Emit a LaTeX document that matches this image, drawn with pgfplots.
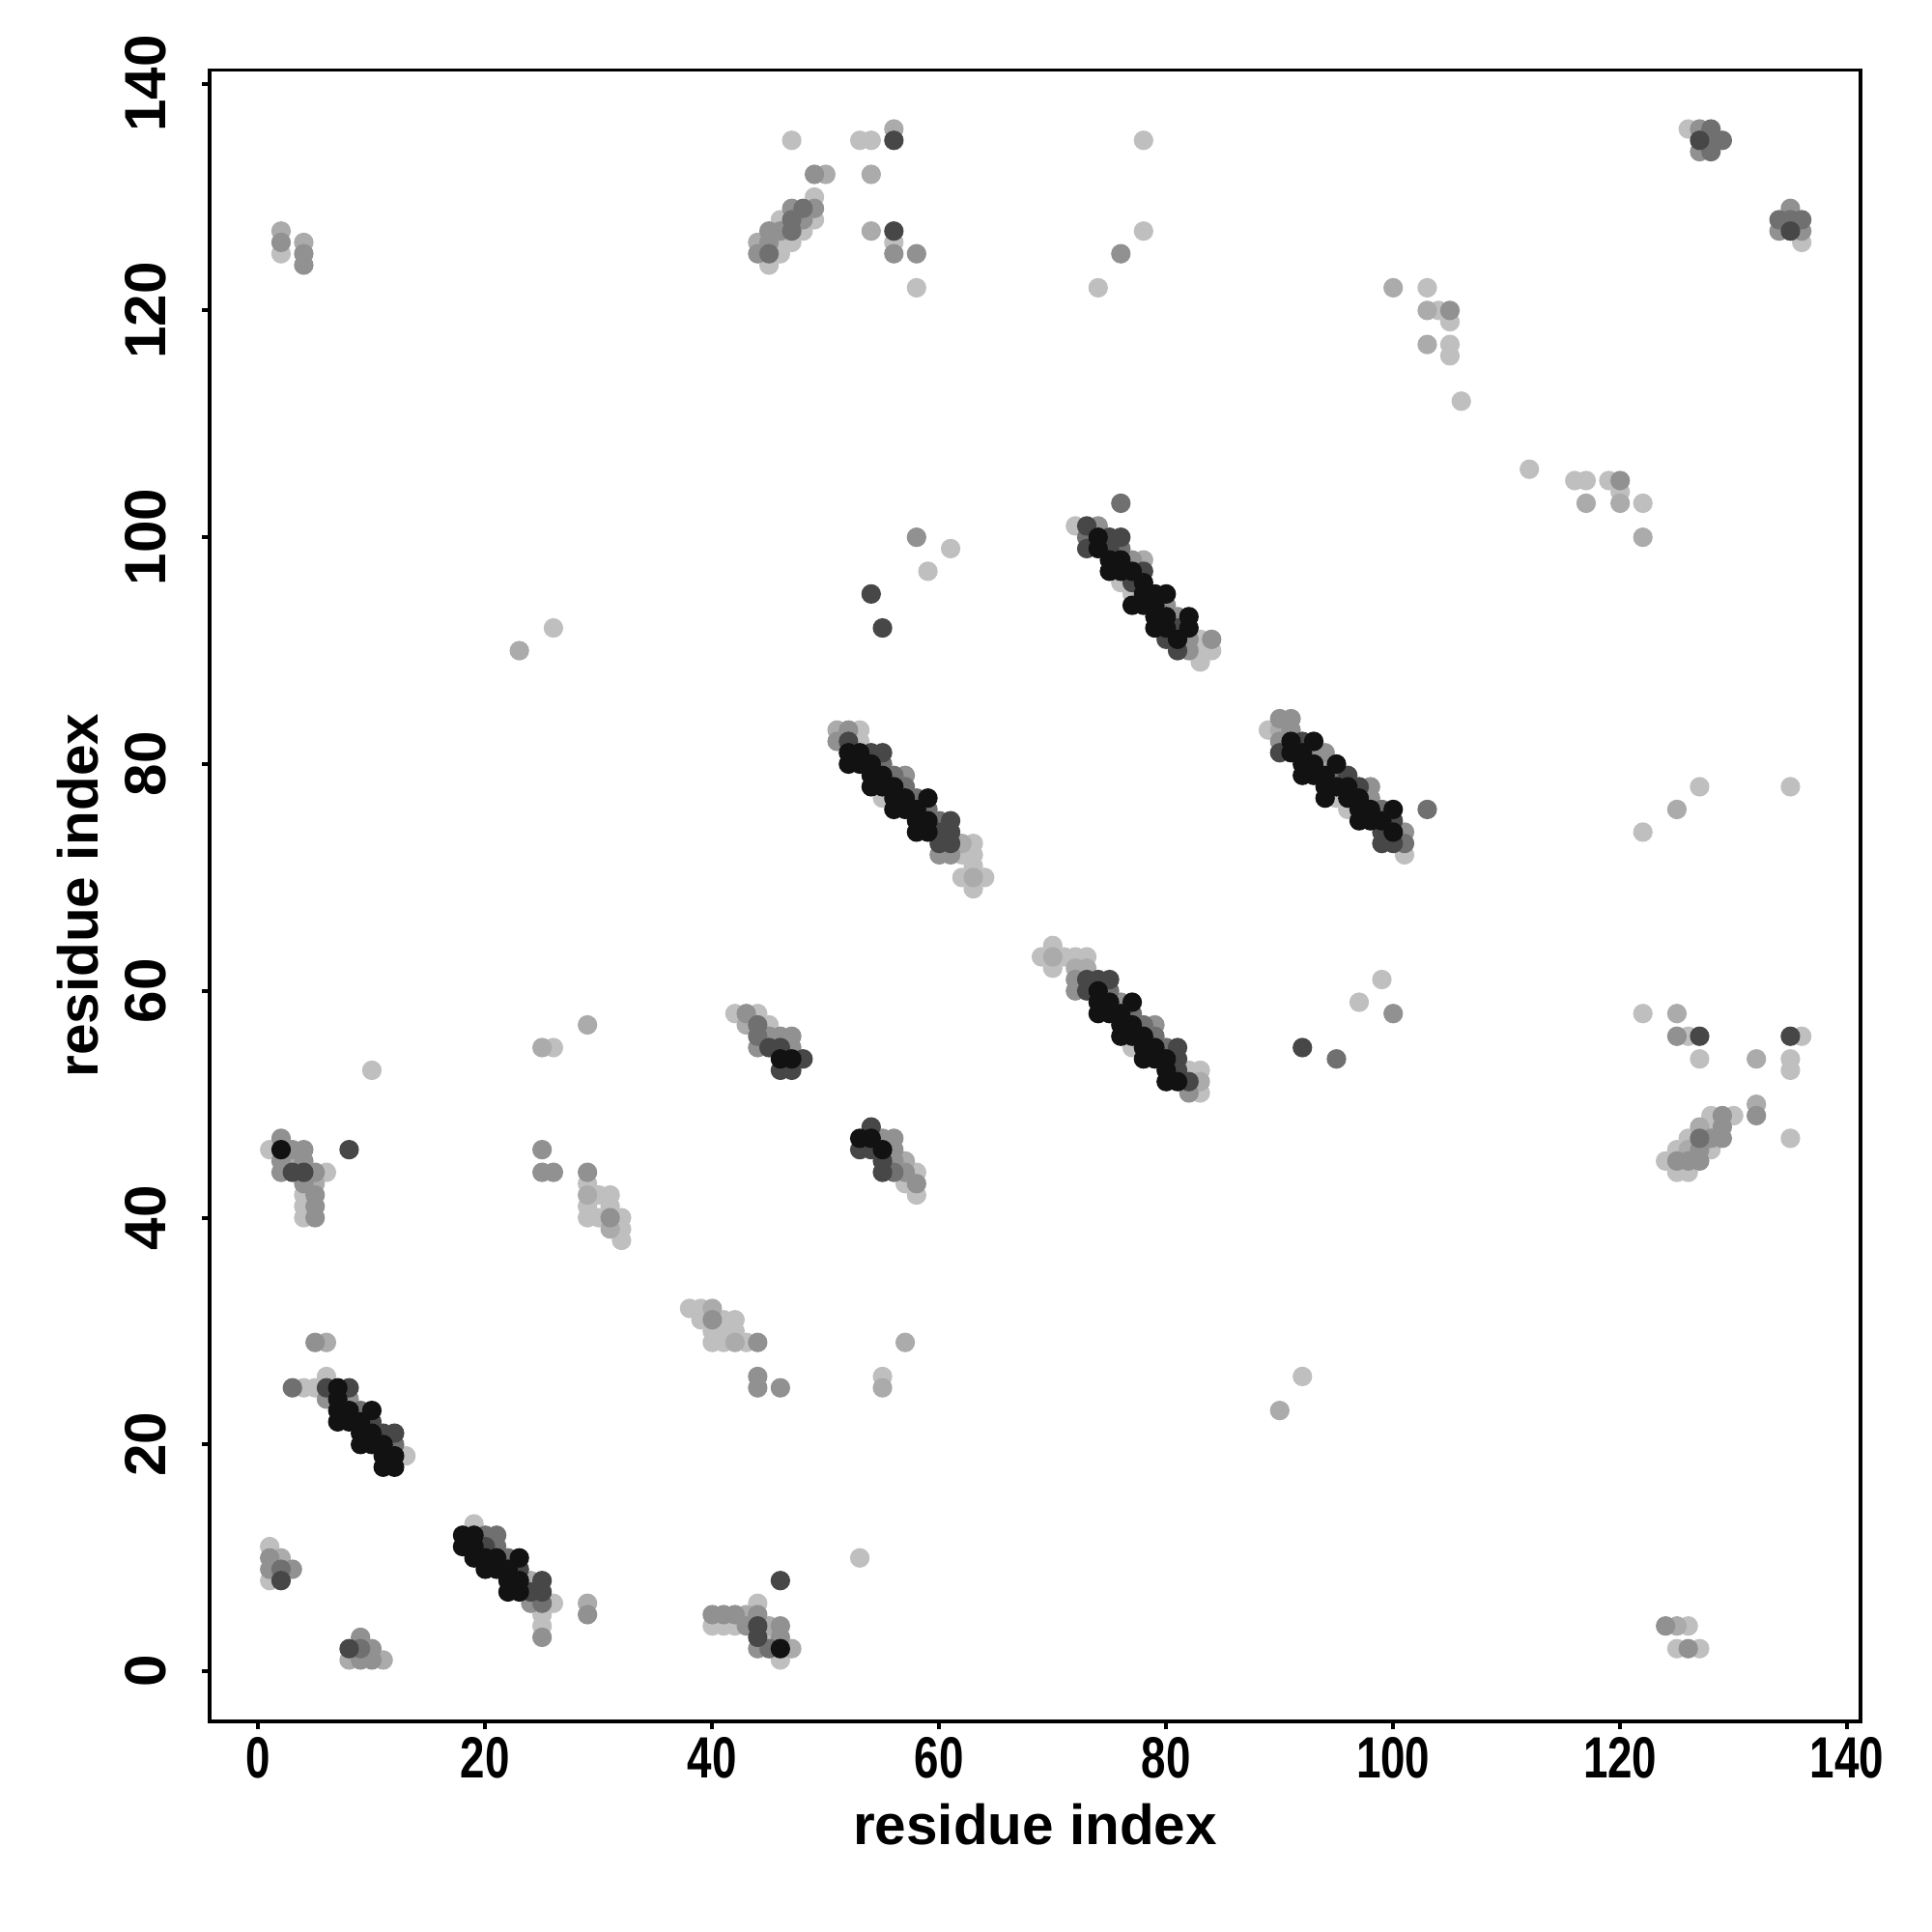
\documentclass[border=0pt]{standalone}
\usepackage{fontspec}
\setmainfont{Liberation Sans}
\newfontfamily\tickfont{Liberation Sans}[FakeStretch=0.76]
\usepackage{pgfplots}
\pgfplotsset{compat=1.18}
\usetikzlibrary{calc}
\definecolor{cL}{gray}{0.75}
\definecolor{cML}{gray}{0.67}
\definecolor{cM}{gray}{0.57}
\definecolor{cDM}{gray}{0.44}
\definecolor{cD}{gray}{0.28}
\definecolor{cK}{gray}{0.07}
\begin{document}
\begin{tikzpicture}
\begin{axis}[
  width=13.67cm, height=13.67cm, scale only axis,
  xmin=-4.3, xmax=141.2, ymin=-4.4, ymax=141.2,
  axis line style={line width=0.9pt},
  every tick/.style={black, line width=0.9pt},
  tick align=outside, major tick length=0.065cm,
  xtick pos=bottom, ytick pos=left,
  xtick={0,20,...,140}, ytick={0,20,...,140},
  /pgf/number format/assume math mode=true,
  xticklabel style={anchor=north, inner sep=0pt, font=\tickfont\bfseries\fontsize{13.7}{16}\selectfont},
  yticklabel style={rotate=90, anchor=south, inner sep=0pt, font=\bfseries\fontsize{13.7}{16}\selectfont},
  xticklabel shift=0.06cm,
  yticklabel shift=0.29cm,
  label style={font=\bfseries\fontsize{13.3}{16}\selectfont, inner sep=0pt},
  xlabel={residue index}, ylabel={residue index},
  xlabel style={at={(axis description cs:0.5,0)}, anchor=base, yshift=-1.02cm},
  ylabel style={at={($(axis description cs:0,0.5)+(-0.92cm,0)$)}, anchor=base},
  every axis plot/.append style={only marks, mark=*, mark size=2.1pt, mark options={draw=none}},
]
% light
\addplot[color=cL] coordinates {
(1,11)(1,8)(19,13)(26,6)(25,5)(25,4)(6,26)(4,25)(5,25)(13,19)
(1,46)(6,44)(4,42)(4,41)(4,40)
(29,43)(30,42)(31,42)(29,41)(31,41)(29,40)(30,40)(32,40)(32,39)(32,38)
(10,53)(26,55)(26,92)
(38,32)(39,32)(39,31)(41,31)(42,31)(40,30)(41,30)(42,30)(40,29)(41,29)(43,29)(55,26)
(44,6)(40,4)(41,4)(42,4)(45,3)(46,1)(53,10)
(42,58)(44,58)(45,57)(58,44)(57,43)(58,42)
(53,83)(53,82)(55,77)(63,73)(62,72)(63,72)(63,71)(62,70)(64,70)(63,69)
(61,99)(59,97)
(72,101)(76,96)(77,95)(83,91)(83,90)(84,90)(83,89)
(70,64)(69,63)(71,63)(72,63)(73,63)(70,62)(77,55)(82,53)(83,53)(83,51)
(89,83)(95,77)(96,76)(101,72)
(92,26)(97,59)(99,61)(122,74)(127,78)(135,78)
(122,58)(126,56)(136,56)(127,54)(135,54)(135,53)(130,49)(128,49)(135,47)(128,48)(126,47)(128,46)(125,46)(124,45)(125,44)(126,44)
(126,4)(125,2)(127,2)
(2,125)
(47,135)(53,135)(54,135)(78,135)(49,130)(46,128)(49,128)(48,127)(78,127)(46,126)(47,126)(56,126)(46,125)(45,124)(58,122)(74,122)
(126,136)(136,126)
(103,122)(104,120)(105,119)(105,117)(105,116)(106,112)(112,106)(116,105)(117,105)(119,105)(120,104)(122,103)
};
% mid-light
\addplot[color=cML] coordinates {
(2,10)(8,1)(11,1)(24,8)(29,6)(6,29)
(3,45)(5,43)(29,42)(31,39)
(25,55)(29,57)(23,90)
(40,32)(42,29)(55,25)(57,29)
(43,5)(45,4)(47,2)
(43,57)(57,45)
(51,83)(62,73)(63,70)
(78,98)
(70,63)(72,62)(73,62)(83,52)
(90,83)(94,80)
(90,23)(125,76)
(125,58)(132,54)(132,50)(127,48)(126,46)
(125,4)
(2,127)(4,126)
(56,136)(50,132)(54,132)(54,127)(44,126)
(100,122)(103,120)(103,117)(117,103)(120,103)(122,100)
};
% mid
\addplot[color=cM] coordinates {
(1,10)(1,9)(3,9)(9,3)(10,2)(9,1)(10,1)
(24,6)(25,3)(29,5)(5,29)(6,24)(8,24)
(2,47)(3,46)(4,46)(2,45)(4,45)(2,44)(5,44)(4,43)(5,42)(5,41)(5,40)
(25,46)(25,44)(26,44)(29,44)(31,40)
(40,31)(44,29)(44,26)(44,25)(46,25)
(40,5)(41,5)(42,5)(44,5)(43,4)(46,4)(46,3)(44,2)
(43,58)(45,56)(46,56)(47,56)(44,55)(47,55)
(55,47)(56,47)(56,46)(56,45)(57,44)(58,43)
(52,83)(51,82)(57,79)(60,72)(61,72)
(58,100)
(74,101)(77,98)(82,91)(84,91)(82,90)(80,94)(81,93)
(72,61)(72,60)(76,59)(79,57)(82,51)
(90,84)(91,84)(91,83)(90,82)(93,81)(94,81)(98,78)(98,77)(101,74)
(100,58)
(125,56)(132,49)(129,49)(129,48)(128,47)(129,47)(127,46)(125,45)(126,45)(127,45)
(124,4)(126,2)
(2,126)(4,125)(4,124)
(49,132)(47,129)(49,129)(48,128)(45,127)(46,127)(45,126)(44,125)(56,125)(58,125)(76,125)
(127,136)(127,134)(135,129)(134,127)(136,127)
(105,120)(120,105)
};
% dark-mid
\addplot[color=cDM] coordinates {
(2,9)(9,2)(20,12)(21,12)(21,11)(22,10)(25,6)
(3,25)(9,23)(12,20)
(45,2)
(44,57)(44,56)
(56,44)
(55,80)(56,79)(57,78)(58,77)(59,76)(60,75)
(73,100)(76,99)(76,103)
(75,60)(77,58)(78,57)(79,56)(80,55)
(95,79)(99,76)(101,73)(103,76)
(95,54)
(127,47)
(48,129)(47,128)(47,127)(45,125)
(128,136)(128,135)(129,135)(128,134)(134,128)(135,128)(136,128)
};
% dark
\addplot[color=cD] coordinates {
(2,8)(8,2)(20,11)(23,9)(25,8)(24,7)(25,7)
(6,25)(8,25)(10,22)(11,21)(12,21)
(3,44)(4,44)(8,46)
(44,4)(44,3)(46,8)
(45,55)(46,55)(48,54)(46,53)(47,53)
(54,48)(53,46)(54,46)(55,45)(55,44)
(52,82)(54,81)(55,81)(61,75)(60,74)(61,74)(60,73)(61,73)
(55,92)(54,95)
(73,101)(75,100)(76,100)(73,99)(75,99)(78,97)(77,96)(81,92)(80,91)(81,90)
(73,61)(74,61)(75,61)(73,60)(81,55)(81,54)(81,53)(82,52)
(92,82)(90,81)(96,79)(97,78)(100,75)(99,74)(99,73)(100,73)
(92,55)
(127,56)(135,56)
(56,135)(56,127)
(127,135)(135,127)
};
% black
\addplot[color=cK] coordinates {
(18,12)(19,12)(18,11)(19,11)(19,10)(20,10)(21,10)(23,10)(20,9)(21,9)(22,9)
(22,8)(23,8)(22,7)(23,7)
(7,25)(7,24)(7,23)(8,23)(10,23)(7,22)(8,22)(9,22)(9,21)(10,21)(9,20)(10,20)(11,20)
(11,19)(12,19)(11,18)(12,18)
(2,46)(46,2)
(46,54)(47,54)
(53,47)(54,47)(55,46)
(52,81)(53,81)(52,80)(53,80)(54,80)(54,79)(55,79)(54,78)(55,78)(56,78)
(56,77)(57,77)(59,77)(56,76)(57,76)(58,76)(58,75)(59,75)(58,74)(59,74)
(74,100)(74,99)(75,98)(76,98)(75,97)(76,97)(77,97)(78,96)(78,95)(79,95)(80,95)
(77,94)(78,94)(79,94)(79,93)(80,93)(82,93)(79,92)(80,92)(82,92)(81,91)
(74,60)(74,59)(75,59)(77,59)(74,58)(75,58)(76,58)(76,57)(77,57)(76,56)(77,56)(78,56)
(78,55)(79,55)(78,54)(79,54)(80,54)(80,53)(80,52)(81,52)
(91,82)(93,82)(91,81)(92,81)(92,80)(93,80)(95,80)(92,79)(93,79)(94,79)
(94,78)(95,78)(96,78)(94,77)(96,77)(97,77)(97,76)(98,76)(100,76)
(97,75)(98,75)(99,75)(100,74)
};
\end{axis}
\path (current axis.south west) ++(-1.735cm,-1.745cm) coordinate (bbA);
\path (current axis.north east) ++(0.59cm,0.58cm) coordinate (bbB);
\path (bbA) rectangle (bbB);
\end{tikzpicture}
\end{document}
